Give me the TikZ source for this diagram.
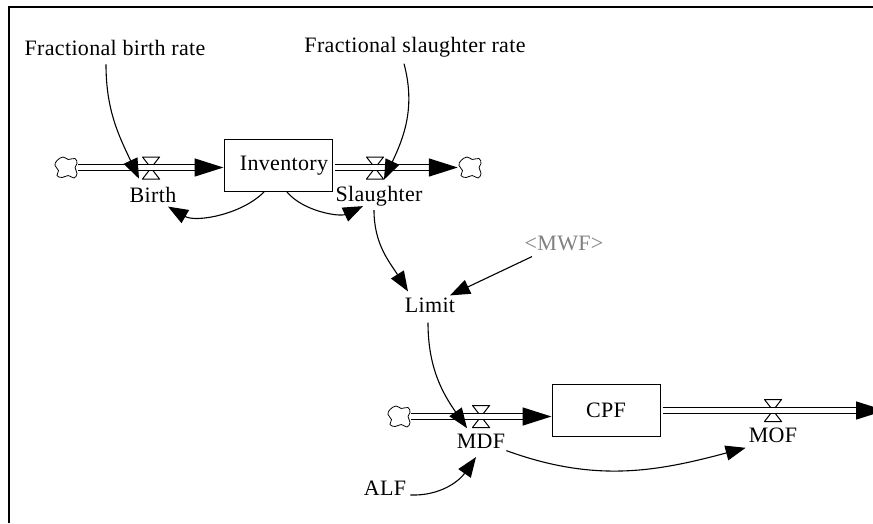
\documentclass[tikz,border=0pt]{standalone}
\usepackage{fontspec}
\setmainfont[LetterSpace=1.5]{Liberation Serif}
\usetikzlibrary{positioning, arrows.meta}
\tikzset{
stock/.style={
    draw,
    line width=1pt,
    minimum width=108pt,
    minimum height=52pt,
    inner sep=0pt
},
valve/.style={
    minimum width=18pt,
    minimum height=23pt,
    inner sep=0pt,
    path picture={
        \draw[line width=1pt] ([shift={(0.5pt,-0.5pt)}]path picture bounding box.north west)
            -- ([shift={(-0.5pt,-0.5pt)}]path picture bounding box.north east)
            -- ([shift={(0.5pt,0.5pt)}]path picture bounding box.south west)
            -- ([shift={(-0.5pt,0.5pt)}]path picture bounding box.south east) -- cycle;
    }
},
blob/.style={
    minimum width=24pt,
    minimum height=24pt,
    inner sep=0pt,
    path picture={
        \draw[shift={(path picture bounding box.center)}, xscale=#1, line width=0.8pt, dash pattern=on 3pt off 0.3pt]
            plot[smooth cycle, tension=0.7] coordinates {
                (-9,-7) (-3,-10.5) (2.3,-8) (9,-9) (11,-4) (9,0) (11,6) (8,10.5)
                (2.3,8) (-4,10) (-9,8) (-7.5,3) (-11,-2)};
    }
},
source/.style={blob=1},
sink/.style={blob=-1},
label/.style={
    inner sep=0pt
},
pipe/.style={
    double=white,
    double distance=4.5pt,
    line width=1.5pt,
    -{Triangle[length=29pt,width=18pt]}
},
link/.style={
    line width=1.1pt,
    -{Triangle[length=20pt,width=15pt]}
}
}

\begin{document}
\begin{tikzpicture}[x=1pt, y=-1pt, font=\fontsize{22}{24}\selectfont]

\useasboundingbox (0,0) rectangle (873,523);

% FRAME
\draw[line width=2pt] (8.5,523) -- (8.5,6.5) -- (873,6.5);

% TOP: INVENTORY
\node[stock] (inv) at (278,165.5) {\hspace*{12pt}Inventory};
\node[source] (birthsrc) at (66,167.5) {};
\node[sink] (slaughtersink) at (470,167.5) {};
\node[valve] (birthvalve) at (151,168) {};
\node[valve] (slaughtervalve) at (375,168) {};
\node[label, below=7pt of birthvalve, xshift=2pt] (birth) {Birth};
\node[label, below=6pt of slaughtervalve, xshift=4pt] (slaughter) {Slaughter};
\node[label] (fbirth) at (115,47.5) {Fractional birth rate};
\node[label] (fslaughter) at (415,47.5) {Fractional slaughter rate};

% MIDDLE: LIMIT
\node[label] (limit) at (430,305) {Limit};
\node[label, text=gray] (mwf) at (564,243) {<MWF>};

% BOTTOM: CPF
\node[stock] (cpf) at (606,410.5) {CPF};
\node[source] (mdfsrc) at (399,416.5) {};
\node[valve] (mdfvalve) at (481,416.5) {};
\node[valve] (mofvalve) at (773,410.5) {};
\node[label, below=6pt of mdfvalve] (mdf) {MDF};
\node[label, below=6pt of mofvalve] (mof) {MOF};
\node[label] (alf) at (385,488) {ALF};
\coordinate (mofend) at (885,410.5);

% PIPES
\draw[pipe] (birthsrc) -- (birthsrc -| inv.west);
\draw[pipe, shorten <=2pt] (slaughtersink -| inv.east) -- (slaughtersink);
\draw[pipe] (mdfsrc) -- (mdfsrc -| cpf.west);
\draw[pipe, shorten <=2pt] (cpf.east) -- (mofend);

% ARROWS
\draw[link] ([xshift=-9pt,yshift=-9pt]fbirth.south) to[out=-90, in=115] ([xshift=-14pt,yshift=8pt]birth.north);
\draw[link] ([xshift=-11pt,yshift=-6pt]fslaughter.south) to[out=-75, in=65] ([xshift=5pt,yshift=6pt]slaughter.north);
\draw[link] ([xshift=-14pt]inv.south) to[out=-135, in=-30, looseness=0.85] ([xshift=15pt,yshift=-4pt]birth.south);
\draw[link] ([xshift=9pt]inv.south) to[out=-50, in=205, looseness=0.85] ([xshift=-16pt,yshift=0pt]slaughter.south);
\draw[link] ([xshift=-5pt,yshift=-4pt]slaughter.south) to[out=-90, in=122] ([xshift=-22pt,yshift=6pt]limit.north);
\draw[link] ([xshift=-32pt,yshift=-6pt]mwf.south) -- ([xshift=20pt,yshift=2pt]limit.north);
\draw[link] ([xshift=-2pt,yshift=-10pt]limit.south) to[out=-90, in=125] ([xshift=-14pt,yshift=6pt]mdf.north);
\draw[link] ([xshift=4pt,yshift=-7pt]alf.east) to[out=-2, in=235] ([xshift=-5pt,yshift=-8pt]mdf.south);
\draw[link] ([xshift=1pt,yshift=-9pt]mdf.east) to[out=-20, in=195] ([xshift=-3pt,yshift=-12pt]mof.west);

\end{tikzpicture}
\end{document}
